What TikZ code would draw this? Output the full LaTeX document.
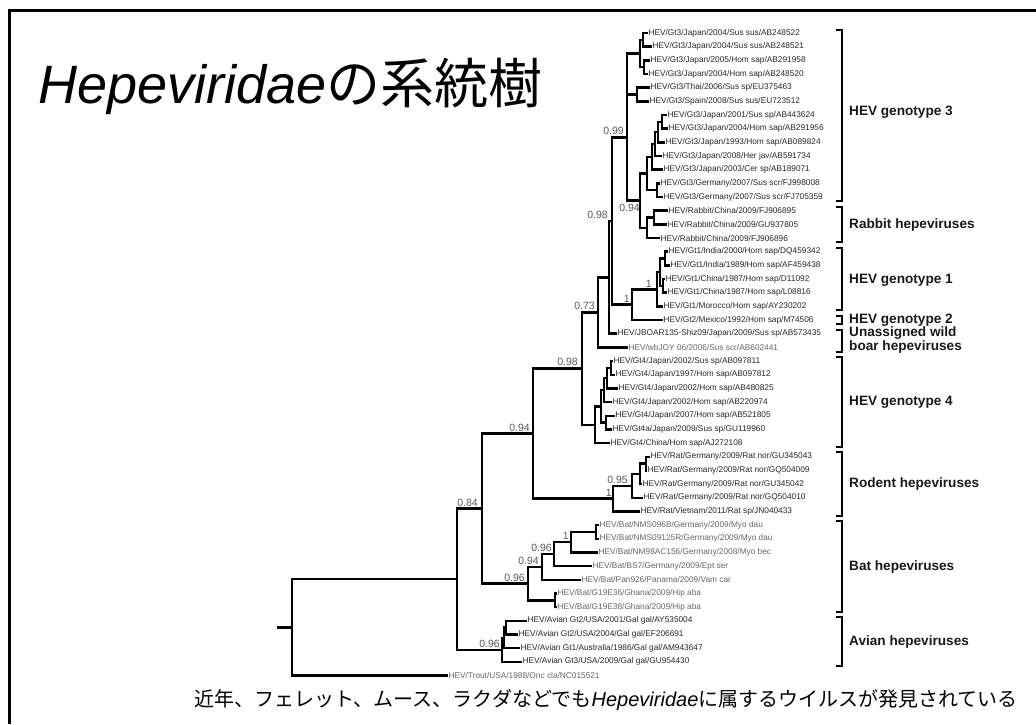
\documentclass[tikz,border=0pt]{standalone}
\usepackage{fontspec}
\setmainfont{Liberation Sans}
\newfontfamily\jpfont{Noto Sans CJK JP}
\tikzset{
  br/.style={line width=2.5pt, line join=miter},
  leaf/.style={anchor=west, inner sep=0.4pt, font=\fontsize{8.3}{9}\selectfont, text=black!85},
  light/.style={text=black!60},
  bs/.style={anchor=base east, inner sep=0pt, font=\fontsize{10.5}{12}\selectfont, text=black!65},
  clade/.style={anchor=west, inner sep=0pt, align=left, font=\fontsize{13.6}{14.5}\selectfont\bfseries, text=black!90},
  bk/.style={line width=2pt, line join=miter},
  frame/.style={line width=3pt}
}
\newcommand\leafnode[4][]{\node[leaf,#1] (L#2) at (#3,{33+(#2-1)*13.67}) {#4};}
\begin{document}
\begin{tikzpicture}[x=1pt,y=-1pt]
\useasboundingbox (0,0) rectangle (1036,724);
% frame
\coordinate (fa) at (9,724);
\coordinate (fb) at (9,10.5);
\coordinate (fc) at (1036,10.5);
\draw[frame] (fa) -- (fb) -- (fc);
% title
\node[anchor=base west, inner sep=0pt, font=\fontsize{54}{60}\selectfont] (title) at (38,103) {\itshape Hepeviridae\upshape{\jpfont の系統樹}};
% bottom text
\node[anchor=base east, inner sep=0pt, font=\fontsize{20}{24}\selectfont] (note) at (1018,706) {{\jpfont 近年、フェレット、ムース、ラクダなどでも}{\itshape Hepeviridae}{\jpfont に属するウイルスが発見されている}};
% leaves
\leafnode{1}{648}{HEV/Gt3/Japan/2004/Sus sus/AB248522}
\leafnode{2}{652}{HEV/Gt3/Japan/2004/Sus sus/AB248521}
\leafnode{3}{650}{HEV/Gt3/Japan/2005/Hom sap/AB291958}
\leafnode{4}{648}{HEV/Gt3/Japan/2004/Hom sap/AB248520}
\leafnode{5}{650}{HEV/Gt3/Thai/2006/Sus sp/EU375463}
\leafnode{6}{649}{HEV/Gt3/Spain/2008/Sus sus/EU723512}
\leafnode{7}{667}{HEV/Gt3/Japan/2001/Sus sp/AB443624}
\leafnode{8}{668}{HEV/Gt3/Japan/2004/Hom sap/AB291956}
\leafnode{9}{665}{HEV/Gt3/Japan/1993/Hom sap/AB089824}
\leafnode{10}{662}{HEV/Gt3/Japan/2008/Her jav/AB591734}
\leafnode{11}{663}{HEV/Gt3/Japan/2003/Cer sp/AB189071}
\leafnode{12}{660}{HEV/Gt3/Germany/2007/Sus scr/FJ998008}
\leafnode{13}{663}{HEV/Gt3/Germany/2007/Sus scr/FJ705359}
\leafnode{14}{668}{HEV/Rabbit/China/2009/FJ906895}
\leafnode{15}{667}{HEV/Rabbit/China/2009/GU937805}
\leafnode{16}{660}{HEV/Rabbit/China/2009/FJ906896}
\leafnode{17}{668}{HEV/Gt1/India/2000/Hom sap/DQ459342}
\leafnode{18}{670}{HEV/Gt1/India/1989/Hom sap/AF459438}
\leafnode{19}{665}{HEV/Gt1/China/1987/Hom sap/D11092}
\leafnode{20}{667}{HEV/Gt1/China/1987/Hom sap/L08816}
\leafnode{21}{663}{HEV/Gt1/Morocco/Hom sap/AY230202}
\leafnode{22}{663}{HEV/Gt2/Mexico/1992/Hom sap/M74506}
\leafnode{23}{617}{HEV/JBOAR135-Shiz09/Japan/2009/Sus sp/AB573435}
\leafnode[light]{24}{628}{HEV/wbJOY 06/2006/Sus scr/AB602441}
\leafnode{25}{613}{HEV/Gt4/Japan/2002/Sus sp/AB097811}
\leafnode{26}{615}{HEV/Gt4/Japan/1997/Hom sap/AB097812}
\leafnode{27}{618}{HEV/Gt4/Japan/2002/Hom sap/AB480825}
\leafnode{28}{612}{HEV/Gt4/Japan/2002/Hom sap/AB220974}
\leafnode{29}{615}{HEV/Gt4/Japan/2007/Hom sap/AB521805}
\leafnode{30}{612}{HEV/Gt4a/Japan/2009/Sus sp/GU119960}
\leafnode{31}{610}{HEV/Gt4/China/Hom sap/AJ272108}
\leafnode{32}{650}{HEV/Rat/Germany/2009/Rat nor/GU345043}
\leafnode{33}{647}{HEV/Rat/Germany/2009/Rat nor/GQ504009}
\leafnode{34}{642}{HEV/Rat/Germany/2009/Rat nor/GU345042}
\leafnode{35}{643}{HEV/Rat/Germany/2009/Rat nor/GQ504010}
\leafnode{36}{640}{HEV/Rat/Vietnam/2011/Rat sp/JN040433}
\leafnode[light]{37}{599}{HEV/Bat/NMS096B/Germany/2009/Myo dau}
\leafnode[light]{38}{599}{HEV/Bat/NMS09125R/Germany/2009/Myo dau}
\leafnode[light]{39}{598}{HEV/Bat/NM98AC156/Germany/2008/Myo bec}
\leafnode[light]{40}{592}{HEV/Bat/BS7/Germany/2009/Ept ser}
\leafnode[light]{41}{581}{HEV/Bat/Pan926/Panama/2009/Vam car}
\leafnode[light]{42}{557}{HEV/Bat/G19E36/Ghana/2009/Hip aba}
\leafnode[light]{43}{557}{HEV/Bat/G19E38/Ghana/2009/Hip aba}
\leafnode{44}{527}{HEV/Avian Gt2/USA/2001/Gal gal/AY535004}
\leafnode{45}{518}{HEV/Avian Gt2/USA/2004/Gal gal/EF206691}
\leafnode{46}{520}{HEV/Avian Gt1/Australia/1986/Gal gal/AM943647}
\leafnode{47}{522}{HEV/Avian Gt3/USA/2009/Gal gal/GU954430}
\leafnode[light]{48}{448}{HEV/Trout/USA/1988/Onc cla/NC015521}
% internal nodes
\coordinate (t1) at (643,39.85);
\coordinate (t2) at (644,67.15);
\coordinate (t3) at (640,53.5);
\coordinate (t4) at (637,94.55);
\coordinate (t5) at (627,74.0);
\coordinate (s1) at (662,121.85);
\coordinate (s2) at (658,132.1);
\coordinate (s3) at (655,144.05);
\coordinate (s4) at (652,156.9);
\coordinate (s6) at (657,190.2);
\coordinate (s5) at (647,173.55);
\coordinate (q1) at (654,217.55);
\coordinate (q2) at (647,227.8);
\coordinate (n094a) at (640,200.7);
\coordinate (n099) at (627,137.35);
\coordinate (g1a) at (665,258.55);
\coordinate (g1b) at (663,285.9);
\coordinate (g1c) at (660,272.2);
\coordinate (g1d) at (657,289.3);
\coordinate (g12) at (632,304.7);
\coordinate (n098a) at (612,221.0);
\coordinate (u) at (609,277.35);
\coordinate (n073) at (598,312.4);
\coordinate (g41) at (611,367.95);
\coordinate (g42) at (607,378.2);
\coordinate (g43) at (604,390.15);
\coordinate (g44) at (606,422.6);
\coordinate (g45) at (601,406.4);
\coordinate (g46) at (595,424.75);
\coordinate (n098b) at (582,368.6);
\coordinate (r1) at (646,463.6);
\coordinate (r2) at (640,473.85);
\coordinate (r3) at (632,485.8);
\coordinate (r4) at (613,498.65);
\coordinate (n094b) at (533,433.6);
\coordinate (b1) at (596,531.95);
\coordinate (b2) at (571,542.2);
\coordinate (b3) at (554,554.15);
\coordinate (b4) at (542,566.95);
\coordinate (b5) at (555,600.35);
\coordinate (b6) at (528,583.65);
\coordinate (X) at (482,508.6);
\coordinate (a1) at (506,627.65);
\coordinate (a2) at (504,637.9);
\coordinate (a3) at (502,649.85);
\coordinate (W) at (457,579.2);
\coordinate (root) at (292,627.35);
\coordinate (r0) at (277,627.35);
% branches
\draw[br] (L1.west) -| (t1) |- (L2.west);
\draw[br] (L3.west) -| (t2) |- (L4.west);
\draw[br] (t1) -| (t3) |- (t2);
\draw[br] (L5.west) -| (t4) |- (L6.west);
\draw[br] (t3) -| (t5) |- (t4);
\draw[br] (L7.west) -| (s1) |- (L8.west);
\draw[br] (s1) -| (s2) |- (L9.west);
\draw[br] (s2) -| (s3) |- (L10.west);
\draw[br] (s3) -| (s4) |- (L11.west);
\draw[br] (L12.west) -| (s6) |- (L13.west);
\draw[br] (s4) -| (s5) |- (s6);
\draw[br] (L14.west) -| (q1) |- (L15.west);
\draw[br] (q1) -| (q2) |- (L16.west);
\draw[br] (s5) -| (n094a) |- (q2);
\draw[br] (t5) -| (n099) |- (n094a);
\draw[br] (L17.west) -| (g1a) |- (L18.west);
\draw[br] (L19.west) -| (g1b) |- (L20.west);
\draw[br] (g1a) -| (g1c) |- (g1b);
\draw[br] (g1c) -| (g1d) |- (L21.west);
\draw[br] (g1d) -| (g12) |- (L22.west);
\draw[br] (n099) -| (n098a) |- (g12);
\draw[br] (n098a) -| (u) |- (L23.west);
\draw[br] (u) -| (n073) |- (L24.west);
\draw[br] (L25.west) -| (g41) |- (L26.west);
\draw[br] (g41) -| (g42) |- (L27.west);
\draw[br] (g42) -| (g43) |- (L28.west);
\draw[br] (L29.west) -| (g44) |- (L30.west);
\draw[br] (g43) -| (g45) |- (g44);
\draw[br] (g45) -| (g46) |- (L31.west);
\draw[br] (n073) -| (n098b) |- (g46);
\draw[br] (L32.west) -| (r1) |- (L33.west);
\draw[br] (r1) -| (r2) |- (L34.west);
\draw[br] (r2) -| (r3) |- (L35.west);
\draw[br] (r3) -| (r4) |- (L36.west);
\draw[br] (n098b) -| (n094b) |- (r4);
\draw[br] (L37.west) -| (b1) |- (L38.west);
\draw[br] (b1) -| (b2) |- (L39.west);
\draw[br] (b2) -| (b3) |- (L40.west);
\draw[br] (b3) -| (b4) |- (L41.west);
\draw[br] (L42.west) -| (b5) |- (L43.west);
\draw[br] (b4) -| (b6) |- (b5);
\draw[br] (n094b) -| (X) |- (b6);
\draw[br] (L44.west) -| (a1) |- (L45.west);
\draw[br] (a1) -| (a2) |- (L46.west);
\draw[br] (a2) -| (a3) |- (L47.west);
\draw[br] (X) -| (W) |- (a3);
\draw[br] (W) -| (root) |- (L48.west);
\draw[br] (r0) -- (root);
% support values
\node[bs] (v099) at (624,134.5) {0.99};
\node[bs] (v094a) at (640,211) {0.94};
\node[bs] (v098a) at (608,218.5) {0.98};
\node[bs] (v1a) at (652,287) {1};
\node[bs] (v1b) at (630,302) {1};
\node[bs] (v073) at (595,309.5) {0.73};
\node[bs] (v098b) at (578,365.5) {0.98};
\node[bs] (v094b) at (530,431) {0.94};
\node[bs] (v095) at (628,483) {0.95};
\node[bs] (v1c) at (612,496) {1};
\node[bs] (v084) at (478,506) {0.84};
\node[bs] (v1d) at (569,539.5) {1};
\node[bs] (v096a) at (552,551.5) {0.96};
\node[bs] (v094c) at (539,564.5) {0.94};
\node[bs] (v096b) at (525,581) {0.96};
\node[bs] (v096c) at (500,647.5) {0.96};
% clade brackets
\coordinate (k1a) at (836,30);  \coordinate (k1b) at (836,201);
\coordinate (k2a) at (836,207); \coordinate (k2b) at (836,242);
\coordinate (k3a) at (836,248); \coordinate (k3b) at (836,310);
\coordinate (k4a) at (836,316); \coordinate (k4b) at (836,324);
\coordinate (k5a) at (836,330); \coordinate (k5b) at (836,352);
\coordinate (k6a) at (836,357); \coordinate (k6b) at (836,447);
\coordinate (k7a) at (836,452); \coordinate (k7b) at (836,516);
\coordinate (k8a) at (836,521); \coordinate (k8b) at (836,612);
\coordinate (k9a) at (836,617); \coordinate (k9b) at (836,666);
\foreach \k in {1,...,9}{\draw[bk] (k\k a) -- ++(6,0) |- (k\k b);}
\node[clade] (c1) at (849,112) {HEV genotype 3};
\node[clade] (c2) at (849,225) {Rabbit hepeviruses};
\node[clade] (c3) at (849,280) {HEV genotype 1};
\node[clade] (c4) at (849,320) {HEV genotype 2};
\node[clade] (c5) at (849,340) {Unassigned wild\\boar hepeviruses};
\node[clade] (c6) at (849,402) {HEV genotype 4};
\node[clade] (c7) at (849,484) {Rodent hepeviruses};
\node[clade] (c8) at (849,567) {Bat hepeviruses};
\node[clade] (c9) at (849,642) {Avian hepeviruses};
\end{tikzpicture}
\end{document}
